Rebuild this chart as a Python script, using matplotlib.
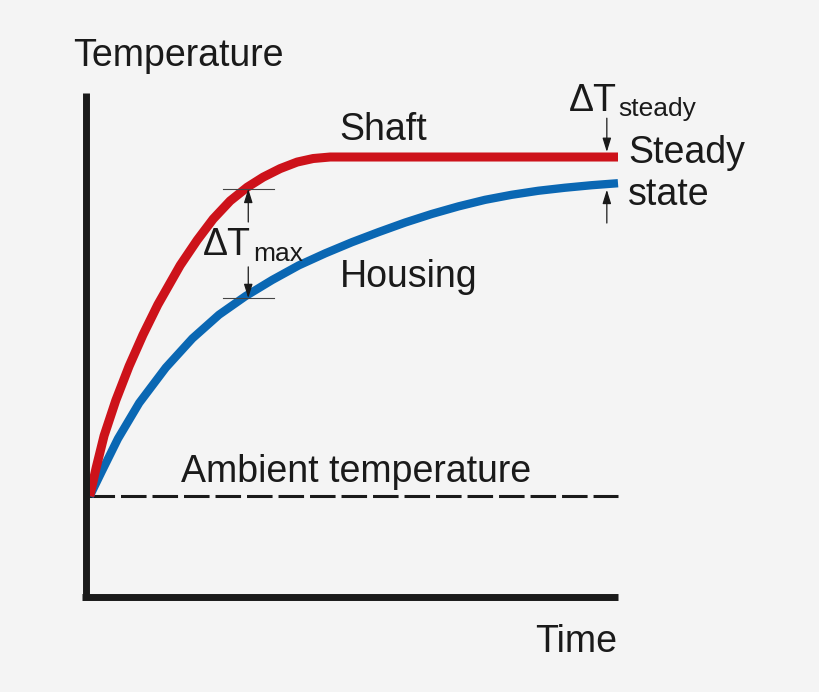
import matplotlib.pyplot as plt

plt.rcParams['font.family'] = ['Liberation Sans', 'DejaVu Sans']

# time axis 0..10, temperature axis 0..100 (arbitrary units)
ambient = 20.0
ambient_t = [0.06, 10.0]

shaft_t = [0.07, 0.19, 0.34, 0.56, 0.81, 1.07, 1.35, 1.77, 2.09, 2.39, 2.71, 3.03,
           3.33, 3.65, 3.97, 4.27, 4.59, 10.0]
shaft_T = [20.0, 25.6, 32.0, 39.0, 45.8, 52.0, 58.0, 65.8, 70.8, 75.0, 78.6, 81.3,
           83.3, 85.0, 86.3, 87.0, 87.3, 87.3]

housing_t = [0.07, 0.3, 0.6, 1.0, 1.5, 2.0, 2.5, 3.0, 3.5, 4.0, 4.5, 5.0, 5.5,
             6.0, 6.5, 7.0, 7.5, 8.0, 8.5, 9.0, 9.5, 10.0]
housing_T = [20.0, 25.0, 31.4, 38.5, 45.5, 51.3, 56.0, 59.7, 62.9, 65.8, 68.2, 70.4, 72.4,
             74.3, 76.0, 77.5, 78.8, 79.8, 80.6, 81.2, 81.7, 82.1]

# delta T markers
dtmax_t = 3.05
dtmax_top, dtmax_bot = 81.0, 59.3
dtsteady_t = 9.79
dtsteady_top, dtsteady_bot = 88.3, 80.8

bg = '#f4f4f4'
ink = '#1a1a1a'
red = '#cd121a'
blue = '#0a67b3'

fig = plt.figure(figsize=(8.2, 6.92), dpi=100, facecolor=bg)
ax = fig.add_axes([86 / 820, 95 / 692, 532 / 820, 504 / 692])
ax.set_facecolor(bg)
ax.set_xlim(0, 10)
ax.set_ylim(0, 100)
ax.set_xticks([])
ax.set_yticks([])
for s in ['top', 'right']:
    ax.spines[s].set_visible(False)
for s in ['left', 'bottom']:
    ax.spines[s].set_linewidth(5.0)
    ax.spines[s].set_color(ink)
    ax.spines[s].set_capstyle('butt')
ax.spines['bottom'].set_bounds(-0.066, 10)

ax.plot(ambient_t, [ambient, ambient], color=ink, lw=2.2,
        linestyle=(0, (8.36, 1.95)), clip_on=False)
ax.plot(housing_t, housing_T, color=blue, lw=6.0, solid_capstyle='butt',
        solid_joinstyle='round', clip_on=False)
ax.plot(shaft_t, shaft_T, color=red, lw=6.5, solid_capstyle='butt',
        solid_joinstyle='round', clip_on=False)

# delta T max: ticks and arrows
ax.plot([2.58, 3.53], [dtmax_top, dtmax_top], color='#444444', lw=0.8)
ax.plot([2.58, 3.53], [dtmax_bot, dtmax_bot], color='#444444', lw=0.8)
arrow = dict(arrowstyle='-|>,head_length=0.42,head_width=0.13', mutation_scale=20,
             color=ink, lw=0.9, shrinkA=0, shrinkB=0)
ax.annotate('', xy=(dtmax_t, dtmax_top), xytext=(dtmax_t, 74.4), arrowprops=arrow)
ax.annotate('', xy=(dtmax_t, dtmax_bot), xytext=(dtmax_t, 65.5), arrowprops=arrow)
ax.annotate('', xy=(dtsteady_t, dtsteady_top), xytext=(dtsteady_t, 95.0),
            arrowprops=arrow, annotation_clip=False)
ax.annotate('', xy=(dtsteady_t, dtsteady_bot), xytext=(dtsteady_t, 74.2),
            arrowprops=arrow, annotation_clip=False)

big = 27
small = 19
ax.text(-0.24, 105.4, 'Temperature', fontsize=big, color=ink, va='baseline')
ax.text(9.98, -10.9, 'Time', fontsize=big, color=ink, va='baseline', ha='right')
ax.text(4.77, 90.7, 'Shaft', fontsize=big, color=ink, va='baseline')
ax.text(4.77, 61.5, 'Housing', fontsize=big, color=ink, va='baseline')
ax.text(10.19, 86.1, 'Steady', fontsize=big, color=ink, va='baseline')
ax.text(10.19, 77.8, 'state', fontsize=big, color=ink, va='baseline')
ax.text(1.78, 22.8, 'Ambient temperature', fontsize=big, color=ink, va='baseline')
ax.text(2.19, 67.9, 'ΔT', fontsize=big, color=ink, va='baseline')
ax.text(3.14, 66.7, 'max', fontsize=small, color=ink, va='baseline')
ax.text(9.08, 96.4, 'ΔT', fontsize=big, color=ink, va='baseline')
ax.text(10.0, 95.4, 'steady', fontsize=small, color=ink, va='baseline')

fig.savefig('out.png', dpi=100, facecolor=bg)
